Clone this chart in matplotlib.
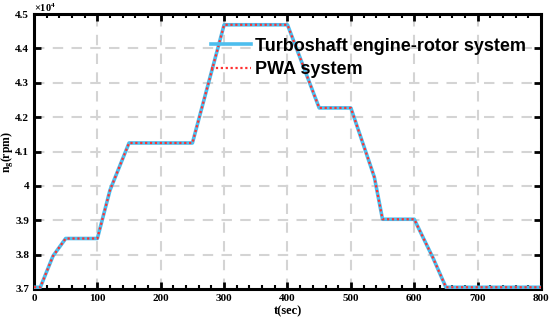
import matplotlib
matplotlib.use("Agg")
import matplotlib.pyplot as plt
from matplotlib.ticker import MultipleLocator, FuncFormatter

plt.rcParams['mathtext.fontset'] = 'custom'
plt.rcParams['mathtext.rm'] = 'Liberation Serif:bold'
plt.rcParams['mathtext.it'] = 'Liberation Serif:italic:bold'
plt.rcParams['mathtext.bf'] = 'Liberation Serif:bold'

# Data (time in sec, speed in rpm)
t = [0, 10, 30, 50, 100, 120, 150, 250, 300, 400, 450, 500, 537, 550, 600, 630, 650, 800]
n_turbo = [37050, 37050, 37960, 38470, 38470, 39880, 41250, 41250, 44690, 44690,
           42270, 42270, 40260, 39030, 39030, 37890, 37050, 37050]
n_pwa = [37050, 37050, 37960, 38470, 38470, 39880, 41250, 41250, 44690, 44690,
         42270, 42270, 40260, 39030, 39030, 37890, 37050, 37050]
labels = ["Turboshaft engine-rotor system", "PWA system"]
xticks = [0, 100, 200, 300, 400, 500, 600, 700, 800]
yticks = [3.7, 3.8, 3.9, 4.0, 4.1, 4.2, 4.3, 4.4, 4.5]

fig = plt.figure(figsize=(5.5, 3.21), dpi=100)
ax = fig.add_axes([0.0618, 0.0997, 0.9218, 0.8563])

scale = 1e4
ax.plot(t, [v / scale for v in n_turbo], color='#4DBEEE', lw=2.6, label=labels[0], zorder=3)
ax.plot(t, [v / scale for v in n_pwa], color='#FF3030', lw=1.6, ls=(0, (1, 1.2)), label=labels[1], zorder=4)

ax.set_xlim(0, 800)
ax.set_ylim(3.7, 4.5)
ax.set_xticks(xticks)
ax.set_yticks(yticks)
ax.xaxis.set_minor_locator(MultipleLocator(20))
ax.yaxis.set_major_formatter(FuncFormatter(lambda v, p: '%g' % round(v, 2)))

ax.grid(True, which='major', color='#d4d4d4', ls=(0, (5, 4)), lw=1.5)
ax.set_axisbelow(True)

for s in ax.spines.values():
    s.set_linewidth(2.2)
ax.tick_params(which='both', direction='in', top=True, right=True)
ax.tick_params(which='major', length=5, width=2)
ax.tick_params(which='minor', length=3, width=1.5)
for lab in ax.get_xticklabels() + ax.get_yticklabels():
    lab.set_fontfamily('Liberation Serif')
    lab.set_fontweight('bold')
    lab.set_fontsize(8)

ax.set_xlabel('t(sec)', fontfamily='Liberation Serif', fontweight='bold', fontsize=9, labelpad=2)
ax.set_ylabel(r'n$_\mathrm{g}$(rpm)', fontfamily='Liberation Serif', fontweight='bold', fontsize=8.5)
ax.yaxis.label.set_va('center')
ax.yaxis.set_label_coords(-0.051, 0.5)

ax.text(0.0, 1.0, r'$\times$10$^4$', transform=ax.transAxes, fontfamily='Liberation Serif',
        fontweight='bold', fontsize=7.5, ha='left', va='bottom')

leg = ax.legend(loc='upper right', frameon=False, prop={'family': 'Liberation Sans', 'weight': 'bold', 'size': 13},
                handlelength=2.2, handletextpad=0.2, labelspacing=0.35, borderaxespad=0.3,
                bbox_to_anchor=(0.995, 0.96))

fig.savefig('out.png', dpi=100)
